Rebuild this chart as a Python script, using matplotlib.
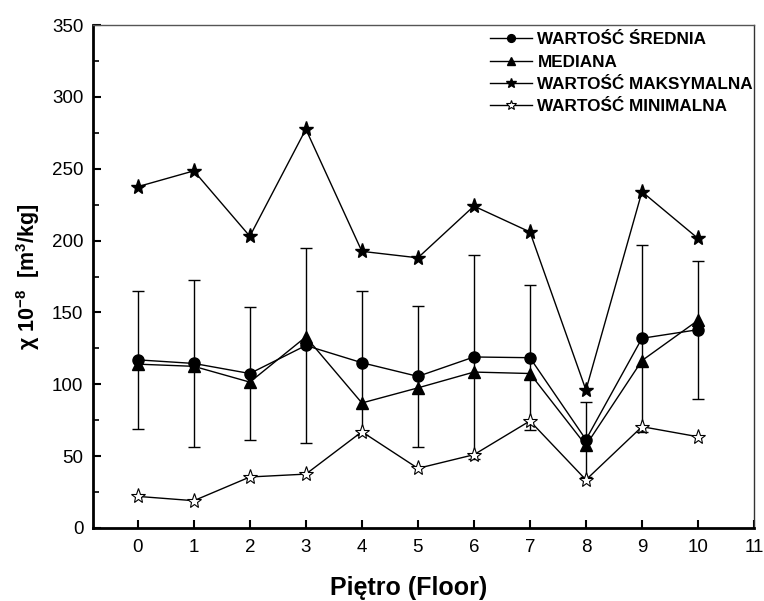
import matplotlib
matplotlib.use('Agg')
import matplotlib.pyplot as plt
from matplotlib.ticker import MultipleLocator

plt.rcParams['font.family'] = ['Liberation Sans', 'DejaVu Sans']
plt.rcParams['mathtext.fontset'] = 'custom'
plt.rcParams['mathtext.rm'] = 'Liberation Sans:bold'
plt.rcParams['mathtext.default'] = 'rm'

# floor numbers
floors = [0, 1, 2, 3, 4, 5, 6, 7, 8, 9, 10]

# values (chi * 10^-8 m3/kg)
mean_vals = [117, 114.5, 107.5, 127, 115, 105.5, 119, 118.5, 61.5, 132, 138]
mean_err = [48, 58, 46.5, 68, 50, 49, 71, 50.5, 26, 65, 48]
median_vals = [114, 112.5, 101.5, 133, 87, 97.5, 108.5, 107.5, 57.5, 116.5, 144.5]
max_vals = [237.5, 248.5, 203, 277.5, 192.5, 188, 224, 206, 96, 234, 201.5]
min_vals = [22, 19, 35.5, 37.5, 67, 41.5, 51, 74.5, 33.5, 70.5, 63.5]

labels = ['WARTOŚĆ ŚREDNIA', 'MEDIANA', 'WARTOŚĆ MAKSYMALNA', 'WARTOŚĆ MINIMALNA']

fig = plt.figure(figsize=(7.64, 6.01), dpi=100)
ax = fig.add_axes([93/764, 73/601, 661/764, 503/601])

ax.errorbar(floors, mean_vals, yerr=mean_err, fmt='none', ecolor='black',
            elinewidth=1, capsize=4, capthick=1, zorder=2)
ax.plot(floors, mean_vals, '-o', color='black', lw=1, ms=8, label=labels[0], zorder=3)
ax.plot(floors, median_vals, '-^', color='black', lw=1, ms=9, label=labels[1], zorder=3)
ax.plot(floors, max_vals, '-*', color='black', lw=1, ms=11, label=labels[2], zorder=3)
ax.plot(floors, min_vals, '-*', color='black', mfc='white', mew=0.8, lw=1, ms=11,
        label=labels[3], zorder=3)

ax.set_xlim(-0.8, 11)
ax.set_ylim(0, 350)
ax.set_xticks(range(0, 12))
ax.yaxis.set_major_locator(MultipleLocator(50))
ax.yaxis.set_minor_locator(MultipleLocator(25))
ax.tick_params(which='both', direction='in', labelsize=13.5)
ax.tick_params(which='major', length=6, width=1.5)
ax.tick_params(which='minor', length=4, width=1.2)
ax.tick_params(axis='x', pad=8)
ax.tick_params(axis='y', pad=7)

ax.spines['left'].set_linewidth(2)
ax.spines['bottom'].set_linewidth(2)
ax.spines['top'].set_linewidth(1)
ax.spines['right'].set_linewidth(1)
ax.spines['top'].set_color('#555555')
ax.spines['right'].set_color('#333333')

ax.set_xlabel('Piętro (Floor)', fontsize=18, fontweight='bold')
ax.xaxis.set_label_coords(0.478, -0.095)
ax.set_ylabel(r'χ 10$^{-8}$  [m$^{3}$/kg]', fontsize=15.5, fontweight='bold', labelpad=7)

leg = ax.legend(loc='upper right', frameon=False, prop={'weight': 'bold', 'size': 12.3},
                handlelength=2.5, handletextpad=0.3, labelspacing=0.42, markerscale=0.7,
                borderaxespad=0.0, bbox_to_anchor=(1.009, 0.999))

fig.savefig('out.png', dpi=100)
